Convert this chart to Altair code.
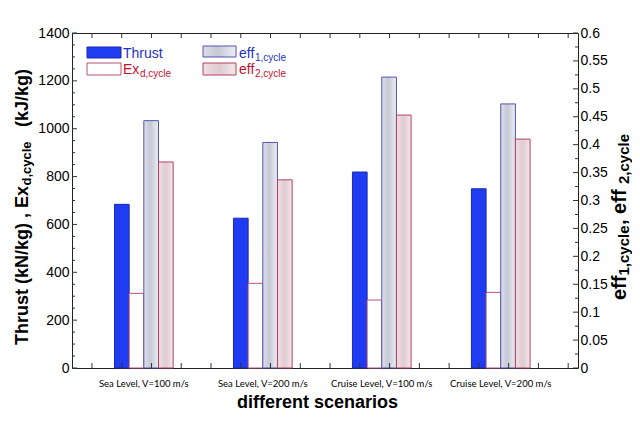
import altair as alt
import pandas as pd

# ---------------- data ----------------
scenarios = ["Sea Level, V=100 m/s", "Sea Level, V=200 m/s",
             "Cruise Level, V=100 m/s", "Cruise Level, V=200 m/s"]
series = ["Thrust", "Ex_d", "eff1", "eff2"]
thrust = [684, 626, 819, 749]          # kN/kg  (left axis)
ex_d = [312, 354, 284, 316]            # kJ/kg  (left axis)
eff1 = [0.443, 0.404, 0.521, 0.473]    # right axis
eff2 = [0.369, 0.337, 0.453, 0.410]    # right axis
left_ticks = [0, 200, 400, 600, 800, 1000, 1200, 1400]
left_minor = [50, 100, 150, 250, 300, 350, 450, 500, 550, 650, 700, 750,
              850, 900, 950, 1050, 1100, 1150, 1250, 1300, 1350]
right_ticks = [0, 0.05, 0.1, 0.15, 0.2, 0.25, 0.3, 0.35, 0.4, 0.45, 0.5, 0.55, 0.6]
right_minor = [0.025, 0.075, 0.125, 0.175, 0.225, 0.275, 0.325, 0.375,
               0.425, 0.475, 0.525, 0.575]
frame_ticks = [0.67, 1.67, 2.67, 3.67, 4.67, 5.67, 6.67, 7.67, 8.67, 9.67,
               10.67, 11.67, 12.67, 13.67, 14.67, 15.67, 16.67]

rows = []
for name, vals in zip(series, [thrust, ex_d, eff1, eff2]):
    for s, v in zip(scenarios, vals):
        rows.append({"scenario": s, "series": name, "value": v})
df = pd.DataFrame(rows)

W, H = 506, 335
FONT = "Liberation Sans"
BLUE = "#1f3cf2"
BLUE_TXT = "#2431c8"
RED_TXT = "#c4122e"

GRAD1 = alt.LinearGradient(gradient="linear", x1=0, x2=1, y1=0, y2=0, stops=[
    alt.GradientStop(color="#dde0e9", offset=0),
    alt.GradientStop(color="#c6c9d4", offset=0.45),
    alt.GradientStop(color="#eceef4", offset=1)])
GRAD2 = alt.LinearGradient(gradient="linear", x1=0, x2=1, y1=0, y2=0, stops=[
    alt.GradientStop(color="#efdfe4", offset=0),
    alt.GradientStop(color="#dfcbd2", offset=0.5),
    alt.GradientStop(color="#f4e8ec", offset=1)])


def xband():
    return alt.Scale(domain=scenarios, paddingInner=0.507, paddingOuter=0.38, align=0.47)


def xoff():
    return alt.XOffset("series:N", scale=alt.Scale(domain=series, paddingInner=0, paddingOuter=0))


base = alt.Chart(df)

left_bars = base.transform_filter(
    alt.FieldOneOfPredicate(field="series", oneOf=["Thrust", "Ex_d"])
).mark_bar(strokeWidth=1).encode(
    x=alt.X("scenario:N", scale=xband(), sort=scenarios,
            axis=alt.Axis(title=None, ticks=False, domain=False, labelAngle=0,
                          labelFont="Lato", labelFontSize=9.5, labelColor="black",
                          labelPadding=10)),
    xOffset=xoff(),
    y=alt.Y("value:Q", scale=alt.Scale(domain=[0, 1400], nice=False),
            axis=alt.Axis(orient="left", values=left_ticks, format="d", title=None,
                          ticks=False, domain=False, grid=False, labelFont=FONT,
                          labelFontSize=14, labelColor="black", labelPadding=3,
                          labelFlush=False)),
    fill=alt.Fill("series:N", scale=alt.Scale(domain=["Thrust", "Ex_d"], range=[BLUE, "white"]),
                  legend=None),
    stroke=alt.Stroke("series:N", scale=alt.Scale(domain=["Thrust", "Ex_d"],
                                                  range=["#1a2ab0", "#b8507a"]), legend=None),
)

eff1_bars = base.transform_filter(alt.datum.series == "eff1").mark_bar(
    fill=GRAD1, stroke="#5252b2", strokeWidth=1
).encode(
    x=alt.X("scenario:N", scale=xband(), sort=scenarios, axis=None),
    xOffset=xoff(),
    y=alt.Y("value:Q", scale=alt.Scale(domain=[0, 0.6], nice=False),
            axis=alt.Axis(orient="right", values=right_ticks, format="~g", title=None,
                          ticks=False, domain=False, grid=False, labelFont=FONT,
                          labelFontSize=14, labelColor="black", labelPadding=2,
                          labelFlush=False)),
)

eff2_bars = base.transform_filter(alt.datum.series == "eff2").mark_bar(
    fill=GRAD2, stroke="#b4405e", strokeWidth=1
).encode(
    x=alt.X("scenario:N", scale=xband(), sort=scenarios, axis=None),
    xOffset=xoff(),
    y=alt.Y("value:Q", scale=alt.Scale(domain=[0, 0.6], nice=False), axis=None),
)

TICK = "#333333"


def yticks(vals, dom, x1, x2):
    return alt.Chart(pd.DataFrame({"v": vals})).mark_rule(color=TICK, strokeWidth=1).encode(
        y=alt.Y("v:Q", scale=alt.Scale(domain=dom, nice=False), axis=None),
        x=alt.value(x1), x2=alt.value(x2))


def xticks(y1, y2):
    return alt.Chart(pd.DataFrame({"t": frame_ticks})).mark_rule(color=TICK, strokeWidth=1).encode(
        x=alt.X("t:Q", scale=alt.Scale(domain=[0, 17], nice=False, zero=False), axis=None),
        y=alt.value(y1), y2=alt.value(y2))


def txt(s, x, y, size, color="black", bold=False, angle=0, align="left",
        baseline="alphabetic", font=FONT):
    props = dict(fontSize=size, color=color, align=align, baseline=baseline, font=font)
    if bold:
        props["fontWeight"] = "bold"
    if angle:
        props["angle"] = angle
    return alt.Chart(pd.DataFrame({"t": [s]})).mark_text(**props).encode(
        text="t:N", x=alt.value(x), y=alt.value(y))


def swatch(x1, x2, y1, y2, fill, stroke):
    return alt.Chart(pd.DataFrame({"k": [0]})).mark_rect(
        fill=fill, stroke=stroke, strokeWidth=1).encode(
        x=alt.value(x1), x2=alt.value(x2), y=alt.value(y1), y2=alt.value(y2))


layers = [
    left_bars, eff1_bars, eff2_bars,
    yticks(left_ticks, [0, 1400], 0, 5),
    yticks(left_minor, [0, 1400], 0, 3),
    yticks(right_ticks, [0, 0.6], W, W - 5),
    yticks(right_minor, [0, 0.6], W, W - 3),
    xticks(H, H - 5),
    xticks(0, 5),
    # legend
    swatch(15, 49, 14, 25, BLUE, "#1a2ab0"),
    swatch(15, 49, 30, 42, "white", "#b8507a"),
    swatch(131, 164, 13, 24, GRAD1, "#5252b2"),
    swatch(131, 164, 30, 42, GRAD2, "#b4405e"),
    txt("Thrust", 51, 25, 14, BLUE_TXT),
    txt("Ex", 51, 41, 14, RED_TXT),
    txt("d,cycle", 68, 44, 10, RED_TXT),
    txt("eff", 167, 25, 14, BLUE_TXT),
    txt("1,cycle", 183, 28, 10, BLUE_TXT),
    txt("eff", 167, 41, 14, RED_TXT),
    txt("2,cycle", 183, 44, 10, RED_TXT),
    # left axis title (rotated, pieces)
    txt("Thrust (kN/kg) , Ex", -44.5, 312, 18, bold=True, angle=270),
    txt("d,cycle", -41.5, 152.5, 13, bold=True, angle=270),
    txt("(kJ/kg)", -44.5, 94, 18, bold=True, angle=270),
    # right axis title
    txt("eff", 554, 267, 20, bold=True, angle=270),
    txt("1,cycle", 557, 242.5, 15, bold=True, angle=270),
    txt(" , eff", 554, 192, 20, bold=True, angle=270),
    txt("2,cycle", 557, 151, 15, bold=True, angle=270),
    # x title
    txt("different scenarios", 245.5, 370, 18, bold=True, align="center", baseline="middle"),
]

chart = alt.layer(*layers).resolve_scale(
    x="independent", y="independent", xOffset="independent"
).properties(
    width=W, height=H,
    autosize=alt.AutoSizeParams(type="none"),
    padding={"left": 64, "top": 25, "right": 54, "bottom": 48},
    background="white",
).configure_view(stroke="#222222", strokeWidth=1)

chart.save("out.html", embed_options={"renderer": "svg", "actions": False})
